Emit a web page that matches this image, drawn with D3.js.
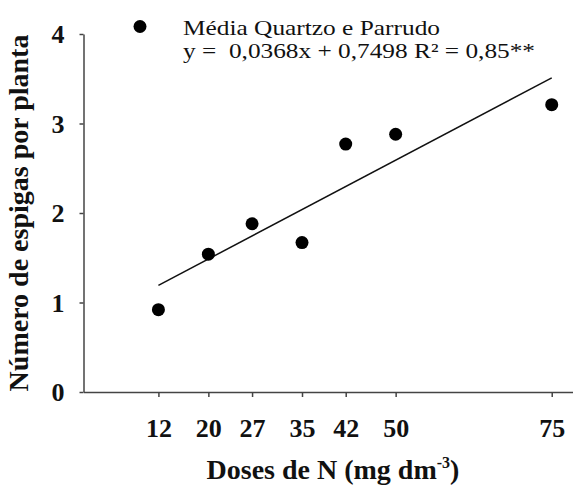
<head>
    <meta charset="utf-8">
    <style> body { margin: 0; background: #fff; } </style>
    <script src="https://d3js.org/d3.v7.min.js"></script>
</head>
<body>
<div id="chart"></div>
<script>
    var doses = [12, 20, 27, 35, 42, 50, 75];
    var espigas = [0.92, 1.54, 1.88, 1.67, 2.77, 2.88, 3.21];
    var yTicks = [0, 1, 2, 3, 4];
    var slope = 0.0368, intercept = 0.7498;
    var legendName = "Média Quartzo e Parrudo";
    var legendEq = "y =  0,0368x + 0,7498 R² = 0,85**";

    var W = 573, H = 488;
    var margin = { top: 34, bottom: 96, left: 83.5, right: 0 };
    var serif = "'Liberation Serif', 'Times New Roman', serif";

    var svg = d3.select("#chart").append("svg")
        .attr("width", W)
        .attr("height", H);

    var x = d3.scaleLinear()
        .domain([0, 78.5])
        .range([margin.left, margin.left + 78.5 * 6.243]);

    var y = d3.scaleLinear()
        .domain([0, 4])
        .range([H - margin.bottom, margin.top]);

    // x axis
    var xx = svg.append("g")
        .attr("transform", `translate(0,${y(0)})`)
        .call(d3.axisBottom(x).tickValues(doses).tickSize(5).tickSizeOuter(0));
    xx.select("path").attr("stroke", "#444").attr("stroke-width", 1.5);
    xx.selectAll("line").attr("stroke", "#444").attr("stroke-width", 1.5);
    xx.selectAll("text")
        .attr("y", 45)
        .attr("dy", 0)
        .attr("fill", "#111")
        .style("font-family", serif)
        .style("font-size", "26px")
        .style("font-weight", "bold");

    // y axis
    var yx = svg.append("g")
        .attr("transform", `translate(${x(0)},0)`)
        .call(d3.axisLeft(y).tickValues(yTicks).tickFormat(d3.format("d")).tickSize(4).tickSizeOuter(0));
    yx.select("path").attr("stroke", "#444").attr("stroke-width", 1.5);
    yx.selectAll("line").attr("stroke", "#444").attr("stroke-width", 1.5);
    yx.selectAll("text")
        .attr("x", -19)
        .attr("dy", "0.33em")
        .attr("fill", "#111")
        .style("font-family", serif)
        .style("font-size", "26px")
        .style("font-weight", "bold");

    // axis titles
    var xt = svg.append("text")
        .attr("x", 333)
        .attr("y", 479)
        .attr("text-anchor", "middle")
        .attr("fill", "#111")
        .style("font-family", serif)
        .style("font-size", "28px")
        .style("font-weight", "bold");
    xt.append("tspan").text("Doses de N (mg dm");
    xt.append("tspan").attr("dy", -11).style("font-size", "16px").text("-3");
    xt.append("tspan").attr("dy", 11).text(")");

    svg.append("text")
        .attr("transform", `translate(28,${(y(0) + y(4)) / 2}) rotate(-90)`)
        .attr("text-anchor", "middle")
        .attr("fill", "#111")
        .style("font-family", serif)
        .style("font-size", "28px")
        .style("font-weight", "bold")
        .text("Número de espigas por planta");

    // regression line
    var xLine = [d3.min(doses), d3.max(doses)];
    svg.append("line")
        .attr("x1", x(xLine[0]))
        .attr("y1", y(slope * xLine[0] + intercept))
        .attr("x2", x(xLine[1]))
        .attr("y2", y(slope * xLine[1] + intercept))
        .attr("stroke", "#111")
        .attr("stroke-width", 1.5);

    // points
    svg.append("g")
        .selectAll("circle")
        .data(doses)
        .enter()
        .append("circle")
        .attr("cx", d => x(d))
        .attr("cy", (d, i) => y(espigas[i]))
        .attr("r", 6.5)
        .attr("fill", "#000");

    // legend
    svg.append("circle")
        .attr("cx", 140)
        .attr("cy", 26.5)
        .attr("r", 6.5)
        .attr("fill", "#000");
    svg.append("text")
        .attr("x", 183)
        .attr("y", 35)
        .attr("fill", "#111")
        .attr("textLength", 257)
        .attr("lengthAdjust", "spacingAndGlyphs")
        .style("font-family", serif)
        .style("font-size", "22px")
        .text(legendName);
    svg.append("text")
        .attr("x", 183)
        .attr("y", 58)
        .attr("fill", "#111")
        .attr("textLength", 352)
        .attr("lengthAdjust", "spacingAndGlyphs")
        .style("font-family", serif)
        .style("font-size", "22px")
        .style("white-space", "pre")
        .text(legendEq);
</script>
</body>
